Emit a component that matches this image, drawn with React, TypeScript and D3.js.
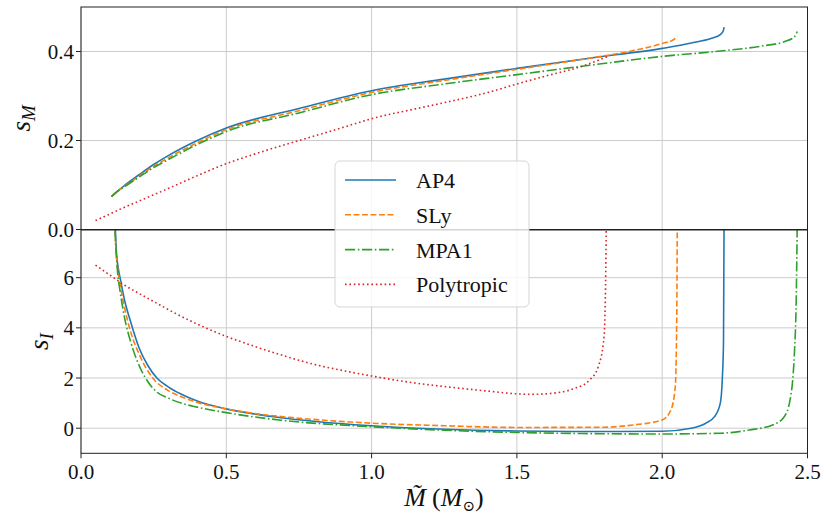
import * as d3 from 'd3';

// values
const xTicks = [0, 0.5, 1.0, 1.5, 2.0, 2.5];
const topTicks = [0, 0.2, 0.4];
const bottomTicks = [0, 2, 4, 6];

// s_M (top panel)
const ap4MassTop = [0.105, 0.12, 0.15, 0.2, 0.25, 0.3, 0.4, 0.5, 0.75, 1.0, 1.25, 1.5, 1.75, 2.0, 2.1, 2.17, 2.2, 2.21, 2.213];
const ap4SM = [0.074, 0.083, 0.099, 0.123, 0.146, 0.166, 0.2, 0.228, 0.272, 0.312, 0.338, 0.362, 0.385, 0.407, 0.419, 0.43, 0.438, 0.446, 0.455];
const slyMassTop = [0.105, 0.12, 0.15, 0.2, 0.25, 0.3, 0.4, 0.5, 0.75, 1.0, 1.25, 1.5, 1.75, 1.9, 2.0, 2.04, 2.052];
const slySM = [0.074, 0.083, 0.097, 0.12, 0.142, 0.161, 0.195, 0.224, 0.267, 0.308, 0.335, 0.36, 0.385, 0.402, 0.418, 0.427, 0.434];
const mpa1MassTop = [0.105, 0.12, 0.15, 0.2, 0.25, 0.3, 0.4, 0.5, 0.75, 1.0, 1.25, 1.5, 1.75, 2.0, 2.2, 2.35, 2.42, 2.455, 2.465];
const mpa1SM = [0.074, 0.083, 0.096, 0.118, 0.139, 0.157, 0.191, 0.22, 0.262, 0.303, 0.327, 0.348, 0.369, 0.389, 0.401, 0.413, 0.422, 0.433, 0.445];
const polyMassTop = [0.05, 0.1, 0.15, 0.2, 0.25, 0.3, 0.4, 0.5, 0.6, 0.75, 0.9, 1.0, 1.15, 1.25, 1.4, 1.5, 1.6, 1.72, 1.81];
const polySM = [0.02, 0.035, 0.05, 0.064, 0.078, 0.092, 0.121, 0.148, 0.17, 0.2, 0.229, 0.249, 0.271, 0.285, 0.308, 0.327, 0.345, 0.366, 0.388];

// s_I (bottom panel)
const ap4MassBot = [0.105, 0.112, 0.118, 0.122, 0.128, 0.137, 0.15, 0.172, 0.2, 0.229, 0.261, 0.3, 0.344, 0.4, 0.5, 0.6, 0.688, 0.8, 1.0, 1.25, 1.5, 1.75, 2.0, 2.1, 2.15, 2.18, 2.2, 2.207, 2.211, 2.213];
const ap4SI = [16, 11, 8.0, 7.0, 6.4, 5.85, 5.1, 4.2, 3.2, 2.52, 2.0, 1.65, 1.36, 1.08, 0.77, 0.56, 0.42, 0.28, 0.1, -0.04, -0.11, -0.13, -0.12, 0.0, 0.2, 0.46, 1.0, 2.0, 3.5, 8.5];
const slyMassBot = [0.105, 0.112, 0.117, 0.121, 0.127, 0.135, 0.15, 0.172, 0.2, 0.229, 0.247, 0.3, 0.344, 0.4, 0.5, 0.6, 0.75, 1.0, 1.25, 1.5, 1.8, 1.9, 2.0, 2.03, 2.045, 2.05, 2.052];
const slySI = [16, 11, 8.0, 7.0, 6.3, 5.7, 4.8, 3.8, 2.95, 2.3, 2.0, 1.5, 1.26, 1.03, 0.77, 0.58, 0.4, 0.2, 0.1, 0.03, 0.04, 0.13, 0.33, 0.73, 1.66, 4.3, 8.5];
const mpa1MassBot = [0.105, 0.112, 0.117, 0.121, 0.126, 0.134, 0.15, 0.172, 0.2, 0.222, 0.26, 0.3, 0.35, 0.4, 0.5, 0.688, 1.0, 1.25, 1.5, 2.0, 2.2, 2.3, 2.38, 2.42, 2.44, 2.455, 2.462, 2.465];
const mpa1SI = [16, 11, 8.0, 7.0, 6.2, 5.5, 4.4, 3.4, 2.5, 2.0, 1.45, 1.2, 0.98, 0.84, 0.62, 0.32, 0.06, -0.08, -0.17, -0.23, -0.2, -0.07, 0.13, 0.46, 1.13, 3.0, 5.7, 8.5];
const polyMassBot = [0.05, 0.1, 0.15, 0.2, 0.25, 0.3, 0.4, 0.5, 0.6, 0.7, 0.8, 0.9, 1.0, 1.15, 1.25, 1.4, 1.5, 1.55, 1.6, 1.7, 1.75, 1.78, 1.8, 1.805, 1.808];
const polySI = [6.5, 6.1, 5.7, 5.37, 5.05, 4.73, 4.15, 3.66, 3.25, 2.88, 2.55, 2.3, 2.08, 1.8, 1.66, 1.48, 1.37, 1.35, 1.37, 1.59, 1.92, 2.45, 3.65, 5.64, 8.5];

const labels = ['AP4', 'SLy', 'MPA1', 'Polytropic'];
const colors = ['#1f77b4', '#ff7f0e', '#2ca02c', '#d62728'];
const dashes = ['none', '5.9 2.6', '10.2 2.6 1.6 2.6', '1.6 2.8'];

const W = 830;
const H = 519;
const left = 81;
const right = 807.5;
const topPanel = { y0: 7, y1: 229.5 };
const botPanel = { y0: 230, y1: 453.3 };
const serif = "'Liberation Serif', 'Times New Roman', Tinos, 'DejaVu Serif', 'Noto Serif', serif";

const zip = (xs: number[], ys: number[]) => xs.map((x, i) => [x, ys[i]] as [number, number]);

export default function App() {
  const x = d3.scaleLinear().domain([0, 2.5]).range([left, right]);
  const yTop = d3.scaleLinear().domain([0, 0.5]).range([topPanel.y1, topPanel.y0]);
  const yBot = d3.scaleLinear().domain([-1, 7.9]).range([botPanel.y1, botPanel.y0]);

  const lineTop = d3.line<[number, number]>().x(d => x(d[0])).y(d => yTop(d[1])).curve(d3.curveMonotoneX);
  const lineBot = d3.line<[number, number]>().x(d => x(d[0])).y(d => yBot(d[1])).curve(d3.curveMonotoneX);

  const topSeries = [zip(ap4MassTop, ap4SM), zip(slyMassTop, slySM), zip(mpa1MassTop, mpa1SM), zip(polyMassTop, polySM)];
  const botSeries = [zip(ap4MassBot, ap4SI), zip(slyMassBot, slySI), zip(mpa1MassBot, mpa1SI), zip(polyMassBot, polySI)];

  const grid = '#cccccc';
  const spine = '#222';

  return (
    <svg width={W} height={H} style={{ position: 'absolute', left: 0, top: 0, background: '#fff', fontFamily: serif }}>
      <defs>
        <clipPath id="clipTop">
          <rect x={left} y={topPanel.y0} width={right - left} height={topPanel.y1 - topPanel.y0} />
        </clipPath>
        <clipPath id="clipBot">
          <rect x={left} y={botPanel.y0} width={right - left} height={botPanel.y1 - botPanel.y0} />
        </clipPath>
      </defs>

      {/* grids */}
      {[topPanel, botPanel].map((p, k) => (
        <g key={'vg' + k}>
          {xTicks.map(t => (
            <line key={t} x1={x(t)} x2={x(t)} y1={p.y0} y2={p.y1} stroke={grid} strokeWidth={1} />
          ))}
        </g>
      ))}
      {topTicks.map(t => (
        <line key={'ht' + t} x1={left} x2={right} y1={yTop(t)} y2={yTop(t)} stroke={grid} strokeWidth={1} />
      ))}
      {bottomTicks.map(t => (
        <line key={'hb' + t} x1={left} x2={right} y1={yBot(t)} y2={yBot(t)} stroke={grid} strokeWidth={1} />
      ))}

      {/* curves */}
      <g clipPath="url(#clipTop)">
        {topSeries.map((s, i) => (
          <path key={i} d={lineTop(s) ?? ''} fill="none" stroke={colors[i]} strokeWidth={1.6} strokeDasharray={dashes[i]} />
        ))}
      </g>
      <g clipPath="url(#clipBot)">
        {botSeries.map((s, i) => (
          <path key={i} d={lineBot(s) ?? ''} fill="none" stroke={colors[i]} strokeWidth={1.6} strokeDasharray={dashes[i]} />
        ))}
      </g>

      {/* spines */}
      {[topPanel, botPanel].map((p, k) => (
        <rect key={'sp' + k} x={left} y={p.y0} width={right - left} height={p.y1 - p.y0} fill="none" stroke={spine} strokeWidth={1} />
      ))}

      {/* y ticks */}
      {topTicks.map(t => (
        <g key={'yt' + t}>
          <line x1={left - 5} x2={left} y1={yTop(t)} y2={yTop(t)} stroke={spine} />
          <text x={left - 7} y={yTop(t)} dy="0.36em" textAnchor="end" fontSize={21} fill="#111">{t.toFixed(1)}</text>
        </g>
      ))}
      {bottomTicks.map(t => (
        <g key={'yb' + t}>
          <line x1={left - 5} x2={left} y1={yBot(t)} y2={yBot(t)} stroke={spine} />
          <text x={left - 7} y={yBot(t)} dy="0.36em" textAnchor="end" fontSize={21} fill="#111">{t}</text>
        </g>
      ))}

      {/* x ticks */}
      {xTicks.map(t => (
        <g key={'xt' + t}>
          <line x1={x(t)} x2={x(t)} y1={botPanel.y1} y2={botPanel.y1 + 5} stroke={spine} />
          <text x={x(t)} y={479} textAnchor="middle" fontSize={21} fill="#111">{t.toFixed(1)}</text>
        </g>
      ))}

      {/* axis labels */}
      <text transform={`translate(30, ${(topPanel.y0 + topPanel.y1) / 2}) rotate(-90)`} textAnchor="middle" fontSize={27} fill="#111">
        <tspan fontStyle="italic">s</tspan>
        <tspan fontStyle="italic" fontSize={19} dy={5}>M</tspan>
      </text>
      <text transform={`translate(48, ${(botPanel.y0 + botPanel.y1) / 2}) rotate(-90)`} textAnchor="middle" fontSize={27} fill="#111">
        <tspan fontStyle="italic">s</tspan>
        <tspan fontStyle="italic" fontSize={19} dy={5}>I</tspan>
      </text>
      <text x={444} y={506} textAnchor="middle" fontSize={26} fill="#111">
        <tspan fontStyle="italic">{'M\u0303'}</tspan>
        <tspan dx={6}>(</tspan>
        <tspan fontStyle="italic">M</tspan>
        <tspan fontSize={15} dy={5}>⊙</tspan>
        <tspan dy={-5}>)</tspan>
      </text>

      {/* legend */}
      <rect x={335} y={161} width={194} height={146} rx={5} fill="#fff" fillOpacity={0.8} stroke="#cccccc" strokeOpacity={0.8} />
      {labels.map((l, i) => {
        const cy = 180 + i * 34.8;
        return (
          <g key={l}>
            <line x1={345} x2={396} y1={cy} y2={cy} stroke={colors[i]} strokeWidth={1.6} strokeDasharray={dashes[i]} />
            <text x={416} y={cy} dy="0.36em" fontSize={22} fill="#111">{l}</text>
          </g>
        );
      })}
    </svg>
  );
}
